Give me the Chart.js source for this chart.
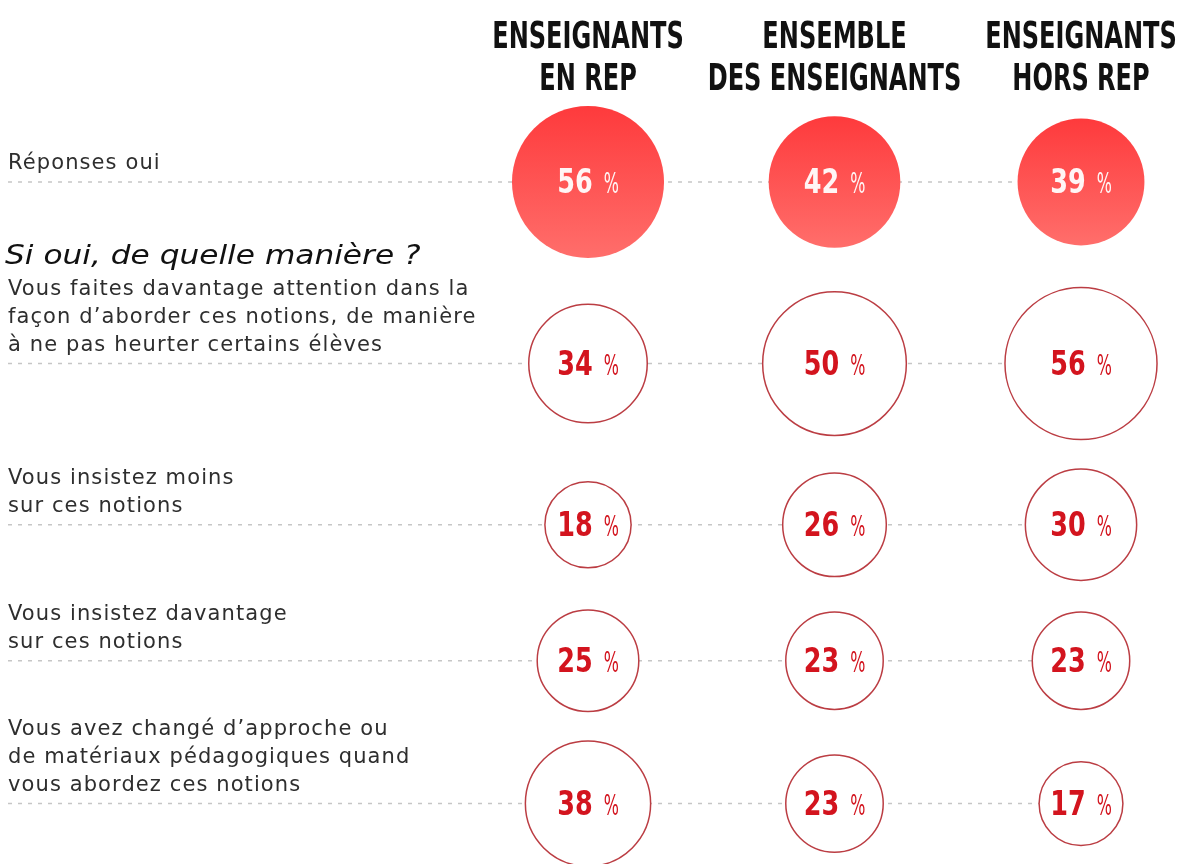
<!DOCTYPE html>
<html>
<head>
<meta charset="utf-8">
<script src="https://cdn.jsdelivr.net/npm/chart.js@4.4.1/dist/chart.umd.min.js"></script>
<style>
  html, body { margin: 0; padding: 0; background: #fff; }
  #wrap { width: 1177px; height: 864px; position: relative; }
</style>
</head>
<body>
<div id="wrap"><canvas id="chart"></canvas></div>
<script>
// --- data ---
const headers = [
  ["ENSEIGNANTS", "EN REP"],
  ["ENSEMBLE", "DES ENSEIGNANTS"],
  ["ENSEIGNANTS", "HORS REP"]
];
const questions = [
  ["Réponses oui"],
  ["Vous faites davantage attention dans la", "façon d’aborder ces notions, de manière", "à ne pas heurter certains élèves"],
  ["Vous insistez moins", "sur ces notions"],
  ["Vous insistez davantage", "sur ces notions"],
  ["Vous avez changé d’approche ou", "de matériaux pédagogiques quand", "vous abordez ces notions"]
];
const subTitle = "Si oui, de quelle manière ?";
const enRep = [56, 34, 18, 25, 38];
const ensemble = [42, 50, 26, 23, 23];
const horsRep = [39, 56, 30, 23, 17];

// --- layout ---
const W = 1177, H = 864;
const FIRST_ROW = 182, ROW_PAD = 29.5, R_SCALE = 10.16;
const COL0_PX = 588, COL_STEP_PX = 246.5;
const X_MIN = -COL0_PX / COL_STEP_PX;
const X_MAX = X_MIN + W / COL_STEP_PX;
const LINE_START = X_MIN + 8 / COL_STEP_PX;
const SANS = "'DejaVu Sans', sans-serif";
const RED = '#d3141e';

const series = [enRep, ensemble, horsRep];
const radius = v => R_SCALE * Math.sqrt(v);

// row spacing follows the biggest bubble of each row
const rowMaxR = questions.map((q, i) => Math.max(...series.map(s => radius(s[i]))));
const rowY = [];
rowMaxR.forEach((r, i) => {
  rowY.push(i === 0 ? FIRST_ROW : rowY[i - 1] + rowMaxR[i - 1] + r + ROW_PAD);
});

function fillFor(context) {
  if (context.dataIndex !== 0) return '#fff';
  const chart = context.chart;
  const raw = context.raw;
  if (!chart.scales || !chart.scales.y || !raw) return '#ff5555';
  const cy = chart.scales.y.getPixelForValue(raw.y);
  if (!isFinite(cy)) return '#ff5555';
  const g = chart.ctx.createLinearGradient(0, cy - raw.r, 0, cy + raw.r);
  g.addColorStop(0, '#fe3a3c');
  g.addColorStop(1, '#ff6e6b');
  return g;
}

const lineSets = rowY.map(y => ({
  type: 'line',
  data: [{ x: LINE_START, y: y }, { x: 2, y: y }],
  borderColor: '#c6c6c6',
  borderWidth: 1.5,
  borderDash: [4, 6],
  pointRadius: 0,
  order: 2
}));

const bubbleSets = series.map((values, c) => ({
  type: 'bubble',
  data: values.map((v, i) => ({ x: c, y: rowY[i], r: radius(v), v: v })),
  backgroundColor: fillFor,
  borderColor: ctx => ctx.dataIndex === 0 ? 'rgba(0,0,0,0)' : '#bb3d43',
  borderWidth: ctx => ctx.dataIndex === 0 ? 0 : 1.5,
  clip: false,
  order: 1
}));

// draw text squeezed or stretched horizontally
function drawScaled(ctx, text, x, y, sx) {
  ctx.save();
  ctx.translate(x, y);
  ctx.scale(sx, 1);
  ctx.fillText(text, 0, 0);
  ctx.restore();
}

const textPlugin = {
  id: 'texts',
  afterDatasetsDraw(chart) {
    const { ctx, scales: { x, y } } = chart;
    ctx.save();

    // column headers, heavy condensed
    ctx.fillStyle = '#111';
    ctx.font = `bold 37px ${SANS}`;
    ctx.textAlign = 'center';
    ctx.textBaseline = 'alphabetic';
    headers.forEach((lines, c) => {
      lines.forEach((t, k) => drawScaled(ctx, t, x.getPixelForValue(c), 48 + k * 42, 0.65));
    });

    // row labels, sitting just above the dashed line
    ctx.textAlign = 'left';
    ctx.textBaseline = 'middle';
    ctx.fillStyle = '#2e2e2e';
    ctx.font = `21px ${SANS}`;
    ctx.letterSpacing = '1.1px';
    let firstLineRow1 = 0;
    questions.forEach((lines, i) => {
      const base = y.getPixelForValue(rowY[i]) - 18;
      lines.forEach((t, k) => {
        const ty = base - (lines.length - 1 - k) * 28;
        if (i === 1 && k === 0) firstLineRow1 = ty;
        ctx.fillText(t, 8, ty);
      });
    });
    ctx.letterSpacing = '0px';

    ctx.fillStyle = '#111';
    ctx.font = `italic 26px ${SANS}`;
    drawScaled(ctx, subTitle, 5, firstLineRow1 - 32, 1.2);

    // percentages inside the bubbles
    ctx.textBaseline = 'alphabetic';
    ctx.textAlign = 'left';
    chart.data.datasets.forEach((ds, di) => {
      if (ds.type !== 'bubble') return;
      chart.getDatasetMeta(di).data.forEach((el, i) => {
        const num = String(ds.data[i].v);
        const sn = 0.75, sp = 0.55, gap = 11;
        ctx.font = `bold 34px ${SANS}`;
        const wn = ctx.measureText(num).width * sn;
        ctx.font = `29px ${SANS}`;
        const wp = ctx.measureText('%').width * sp;
        const x0 = el.x - (wn + gap + wp) / 2;
        const by = el.y + 11;
        ctx.fillStyle = i === 0 ? '#fff5f5' : RED;
        ctx.font = `bold 34px ${SANS}`;
        drawScaled(ctx, num, x0, by, sn);
        ctx.font = `29px ${SANS}`;
        drawScaled(ctx, '%', x0 + wn + gap, by, sp);
      });
    });
    ctx.restore();
  }
};

new Chart(document.getElementById('chart'), {
  data: { datasets: [...lineSets, ...bubbleSets] },
  options: {
    responsive: true,
    maintainAspectRatio: false,
    animation: false,
    events: [],
    layout: { padding: 0, autoPadding: false },
    plugins: { legend: { display: false }, tooltip: { enabled: false } },
    scales: {
      x: { type: 'linear', display: false, min: X_MIN, max: X_MAX },
      y: { type: 'linear', display: false, reverse: true, min: 0, max: H }
    }
  },
  plugins: [textPlugin]
});
</script>
</body>
</html>
